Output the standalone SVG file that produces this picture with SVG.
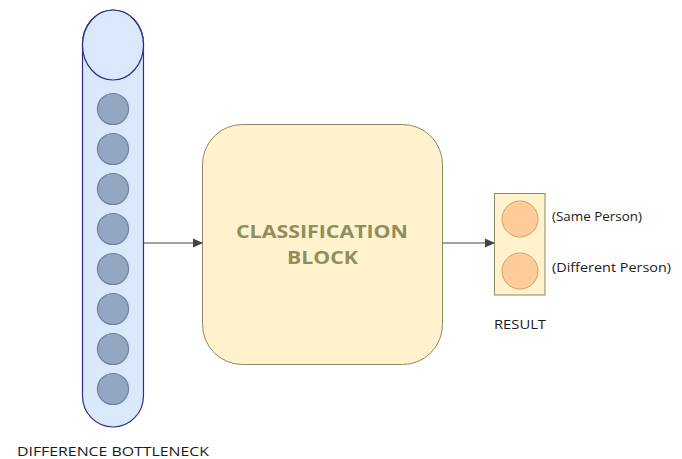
<svg xmlns="http://www.w3.org/2000/svg" width="682" height="459" viewBox="0 0 682 459">
<style>
text{font-family:"Open Sans","Noto Sans","Liberation Sans",sans-serif;fill:#1a1a1a}
.lbl{font-size:13.5px}
.neuron{fill:#94a7c2;stroke:#6f819c;stroke-width:1.2}
.out{fill:#ffcc99;stroke:#c9a46a;stroke-width:1}
.conn{stroke:#444;stroke-width:1.2;fill:none}
.big{font-size:18px;font-weight:bold}
</style>
<defs>
<marker id="arr" markerWidth="10" markerHeight="10" refX="9" refY="5" orient="auto" markerUnits="userSpaceOnUse">
<path d="M0,0.5 L10,5 L0,9.5 Z" fill="#444"/>
</marker>
</defs>
<rect width="682" height="459" fill="#fff"/>
<g id="bottleneck">
<path d="M82.5,44 A30.5,34 0 0 1 143.5,44 L143.5,396 A30.5,31 0 0 1 82.5,396 Z" fill="#dae8fc" stroke="#2e2e8a" stroke-width="1.2"/>
<ellipse cx="113" cy="45" rx="30.5" ry="35" fill="#dae8fc" stroke="#2e2e8a" stroke-width="1.2"/>
<circle class="neuron" cx="113" cy="109" r="15.5"/>
<circle class="neuron" cx="113" cy="149" r="15.5"/>
<circle class="neuron" cx="113" cy="189" r="15.5"/>
<circle class="neuron" cx="113" cy="229" r="15.5"/>
<circle class="neuron" cx="113" cy="269" r="15.5"/>
<circle class="neuron" cx="113" cy="309" r="15.5"/>
<circle class="neuron" cx="113" cy="349" r="15.5"/>
<circle class="neuron" cx="113" cy="389" r="15.5"/>
<text class="lbl" x="17" y="456" textLength="192" lengthAdjust="spacingAndGlyphs">DIFFERENCE BOTTLENECK</text>
</g>
<g id="classification">
<rect x="202.5" y="124.5" width="240" height="240" rx="40" ry="40" fill="#fff2cc" stroke="#8f8762" stroke-width="1"/>
<text class="big" x="236" y="238" textLength="172" lengthAdjust="spacingAndGlyphs" style="fill:#8e8e5e">CLASSIFICATION</text>
<text class="big" x="287" y="264" textLength="71" lengthAdjust="spacingAndGlyphs" style="fill:#8e8e5e">BLOCK</text>
</g>
<g id="result">
<rect x="494.5" y="193.5" width="50.5" height="101.5" fill="#fff2cc" stroke="#8f8762" stroke-width="1"/>
<circle class="out" cx="520" cy="219" r="18"/>
<circle class="out" cx="520" cy="271" r="18"/>
<text class="lbl" x="552" y="221" textLength="90" lengthAdjust="spacingAndGlyphs">(Same Person)</text>
<text class="lbl" x="552" y="272" textLength="119" lengthAdjust="spacingAndGlyphs">(Different Person)</text>
<text class="lbl" x="494" y="329" textLength="52" lengthAdjust="spacingAndGlyphs">RESULT</text>
</g>
<g id="connectors">
<line class="conn" x1="143.5" y1="243" x2="202" y2="243" marker-end="url(#arr)"/>
<line class="conn" x1="442.5" y1="243" x2="494" y2="243" marker-end="url(#arr)"/>
</g>
</svg>
